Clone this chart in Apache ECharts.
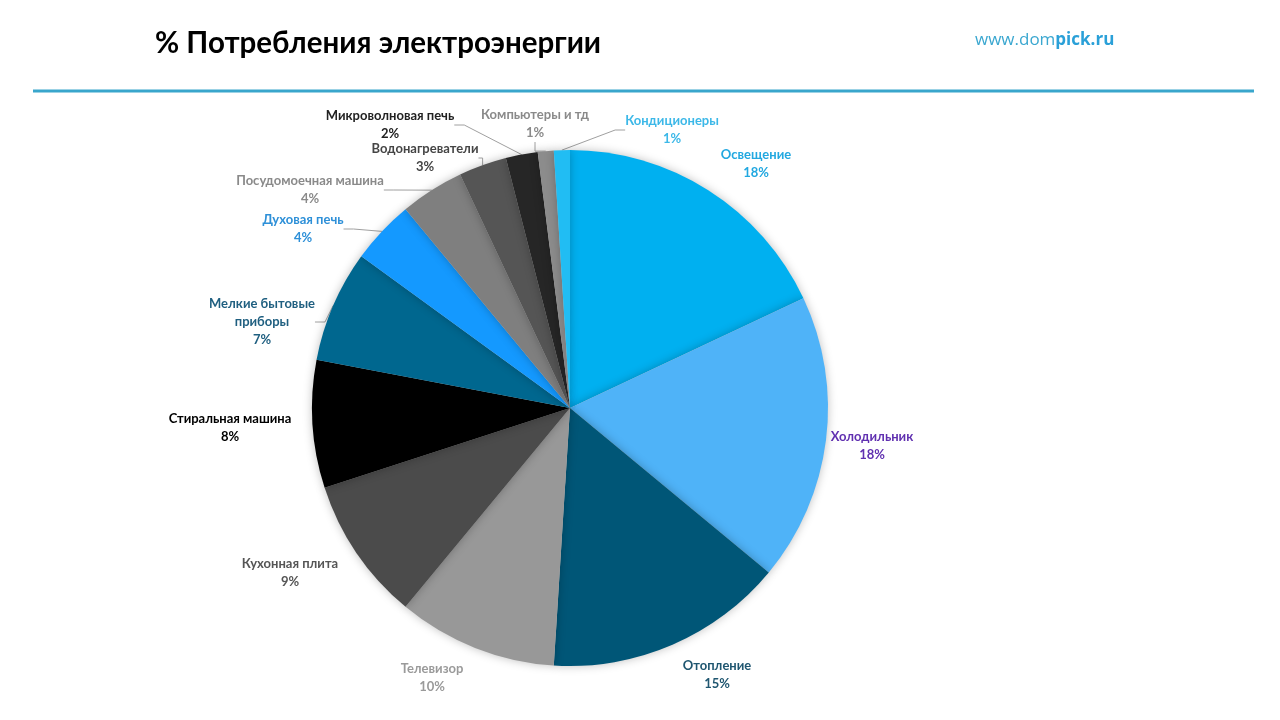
<!DOCTYPE html>
<html>
<head>
<meta charset="utf-8">
<script src="https://cdn.jsdelivr.net/npm/echarts@6/dist/echarts.min.js"></script>
<style>
  html, body { margin:0; padding:0; background:#fff; }
  #chart { width:1280px; height:720px; }
</style>
</head>
<body>
<div id="chart"></div>
<script>
// categories, clockwise from the top
var categories = ['Освещение', 'Холодильник', 'Отопление', 'Телевизор', 'Кухонная плита',
    'Стиральная машина', 'Мелкие бытовые приборы', 'Духовая печь', 'Посудомоечная машина',
    'Водонагреватели', 'Микроволновая печь', 'Компьютеры и тд', 'Кондиционеры'];
var shares = [18, 18, 15, 10, 9, 8, 7, 4, 4, 3, 2, 1, 1];

var sliceColors = ['#00b0f0', '#4fb3f8', '#005677', '#989898', '#4b4b4b', '#000000',
    '#00678f', '#1499ff', '#7f7f7f', '#555555', '#262626', '#8c8c8c', '#21bdf3'];
var labelColors = ['#22a8e0', '#6030b0', '#1f5670', '#9a9a9a', '#555555', '#000000',
    '#1f5f80', '#2e90d8', '#8a8a8a', '#454545', '#222222', '#8a8a8a', '#3cb8e8'];
// where each label sits (text centre)
var labelSpots = [[756, 164], [872, 446], [717, 675], [432, 678], [290, 573], [230, 428],
    [262, 322], [303, 229], [310, 190], [425, 158], [390, 125], [535, 124], [672, 130]];

var chart = echarts.init(document.getElementById('chart'), null, {renderer: 'canvas'});

var data = categories.map(function (name, i) {
    return {
        name: name,
        value: shares[i],
        itemStyle: {color: sliceColors[i]},
        label: {color: labelColors[i]},
        labelLine: {show: i >= 6}
    };
});

chart.setOption({
    backgroundColor: '#fff',
    animation: false,
    graphic: [
        {
            type: 'text', left: 155, top: 28,
            style: {text: '% Потребления электроэнергии', font: 'bold 29.5px Lato', fill: '#000'}
        },
        {
            type: 'text', left: 975, top: 32,
            style: {
                text: '{a|www.dom}{b|pick.ru}',
                rich: {
                    a: {font: '17px "Open Sans"', fill: '#3aa7d0'},
                    b: {font: 'bold 17px "Open Sans"', fill: '#2aa0d8'}
                }
            }
        },
        {
            type: 'rect', shape: {x: 33, y: 89.5, width: 1221, height: 3},
            style: {fill: '#39a6cc'}
        }
    ],
    series: [{
        type: 'pie',
        center: [570, 408],
        radius: 258,
        startAngle: 90,
        clockwise: true,
        data: data,
        itemStyle: {shadowBlur: 10, shadowColor: 'rgba(0,0,0,0.25)'},
        label: {
            show: true,
            position: 'outside',
            fontFamily: 'Lato',
            fontWeight: 'bold',
            fontSize: 13,
            lineHeight: 18,
            align: 'center',
            formatter: function (p) {
                return p.name.replace('бытовые ', 'бытовые\n') + '\n' + p.value + '%';
            }
        },
        labelLine: {lineStyle: {color: '#a0a0a0', width: 1}, length: 10, length2: 10},
        labelLayout: function (p) {
            var s = labelSpots[p.dataIndex];
            return {x: s[0], y: s[1], align: 'center', verticalAlign: 'middle'};
        },
        emphasis: {disabled: true}
    }]
});
</script>
</body>
</html>
